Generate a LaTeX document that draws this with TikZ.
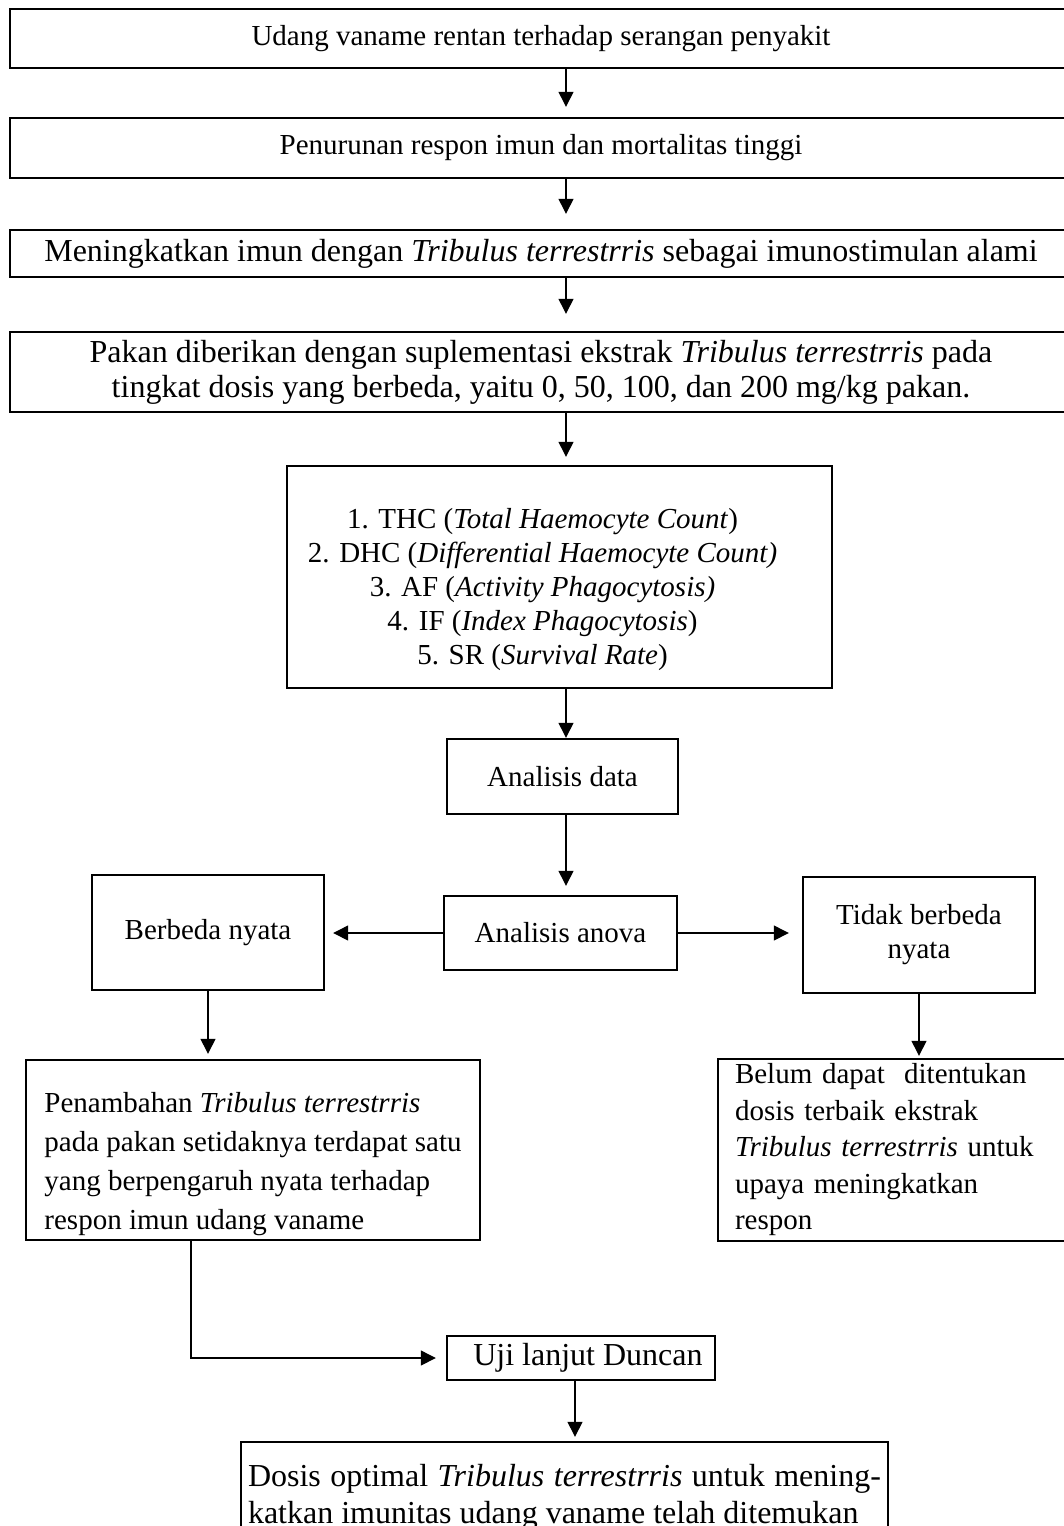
\documentclass[tikz,border=0pt]{standalone}
\usepackage{fontspec}
\setmainfont{Liberation Serif}
\usetikzlibrary{arrows.meta,positioning}

\tikzset{
	box/.style={draw, line width=2.4pt, inner sep=0pt, align=center,
		font=\fontsize{29}{34}\selectfont},
	wide/.style={box, minimum width=1062pt},
	big/.style={font=\fontsize{32}{35}\selectfont},
	flow/.style={->, line width=1.3pt},
}

\begin{document}
\begin{tikzpicture}[x=1pt,y=-1pt,>={Triangle[length=15pt,width=15pt]}]
	\useasboundingbox (0,0) rectangle (1063,1526);
	\coordinate (axis) at (566,0);
	% main chain
	\node[wide, minimum height=59pt] (b_1) at (541,38.5) {Udang vaname rentan terhadap serangan penyakit};
	\node[wide, minimum height=60pt] (b_2) at (541,148) {Penurunan respon imun dan mortalitas tinggi};
	\node[wide, big, minimum height=47pt] (b_3) at (541,253.5) {Meningkatkan imun dengan \textit{Tribulus terrestrris} sebagai imunostimulan alami};
	\node[wide, big, minimum height=80pt] (b_4) at (541,372) {Pakan diberikan dengan suplementasi ekstrak \textit{Tribulus terrestrris} pada\\tingkat dosis yang berbeda, yaitu 0, 50, 100, dan 200 mg/kg pakan.};
	\node[box, minimum width=545pt, minimum height=222pt] (b_5) at (559.5,577) {\begin{tabular}{@{}c@{\hspace{34pt}}}
		\rule{0pt}{50pt}1. THC (\textit{Total Haemocyte Count})\\
		2. DHC (\textit{Differential Haemocyte Count)}\\
		3. AF (\textit{Activity Phagocytosis)}\\
		4. IF (\textit{Index Phagocytosis})\\
		5. SR (\textit{Survival Rate})
	\end{tabular}};
	\node[box, minimum width=231pt, minimum height=75pt] (data) at (562.5,776.5) {Analisis data};
	\node[box, minimum width=233pt, minimum height=74pt] (anova) at (560.5,933) {Analisis anova};
	% branches
	\node[box, minimum width=232pt, minimum height=115pt] (beda) at (208,932.5) {Berbeda nyata};
	\node[box, minimum width=232pt, minimum height=116pt] (tidak) at (919,935) {Tidak berbeda\\nyata};
	\node[box, align=left, minimum width=454pt, minimum height=180pt,
		font=\fontsize{29}{39}\selectfont] (tambah) at (253,1150) {\rule{0pt}{48pt}Penambahan \textit{Tribulus terrestrris}\\pada pakan setidaknya terdapat satu\\yang berpengaruh nyata terhadap\\respon imun udang vaname};
	\node[box, align=left, text width=323pt, inner xsep=17pt, minimum height=182pt,
		font=\fontsize{29}{36.5}\selectfont] (belum) at (896.5,1150) {Belum dapat\ \ ditentukan\\dosis terbaik ekstrak\\\textit{Tribulus terrestrris} untuk\\upaya meningkatkan\\respon};
	\node[box, big, minimum width=268pt, minimum height=44pt] (uji) at (581,1358) {\hspace*{14pt}Uji lanjut Duncan};
	\node[box, align=justify, text width=633pt, inner xsep=7pt, minimum height=110pt,
		font=\fontsize{32}{37}\selectfont] (dosis) at (564.5,1497) {Dosis optimal \textit{Tribulus terrestrris} untuk mening-\linebreak katkan imunitas udang vaname telah ditemukan};

	\draw[flow, shorten >=10pt] (b_1.south -| axis) -- (b_2.north -| axis);
	\draw[flow, shorten >=15pt] (b_2.south -| axis) -- (b_3.north -| axis);
	\draw[flow, shorten >=17pt] (b_3.south -| axis) -- (b_4.north -| axis);
	\draw[flow, shorten >=8pt] (b_4.south -| axis) -- (b_5.north -| axis);
	\draw[flow] (b_5.south -| axis) -- (data.north -| axis);
	\draw[flow, shorten >=9pt] (data.south -| axis) -- (anova.north -| axis);
	\draw[flow, shorten >=8pt] (anova.west) -- (anova.west -| beda.east);
	\draw[flow, shorten >=13pt] (anova.east) -- (anova.east -| tidak.west);
	\draw[flow, shorten >=5pt] (beda.south) -- (beda.south |- tambah.north);
	\draw[flow, shorten >=2pt] (tidak.south) -- (tidak.south |- belum.north);
	\draw[flow, shorten >=10pt] ([xshift=-62pt]tambah.south) |- (uji.west);
	\draw[flow, shorten >=4pt] ([xshift=-6pt]uji.south) -- ([xshift=-6pt]uji.south |- dosis.north);
\end{tikzpicture}
\end{document}
